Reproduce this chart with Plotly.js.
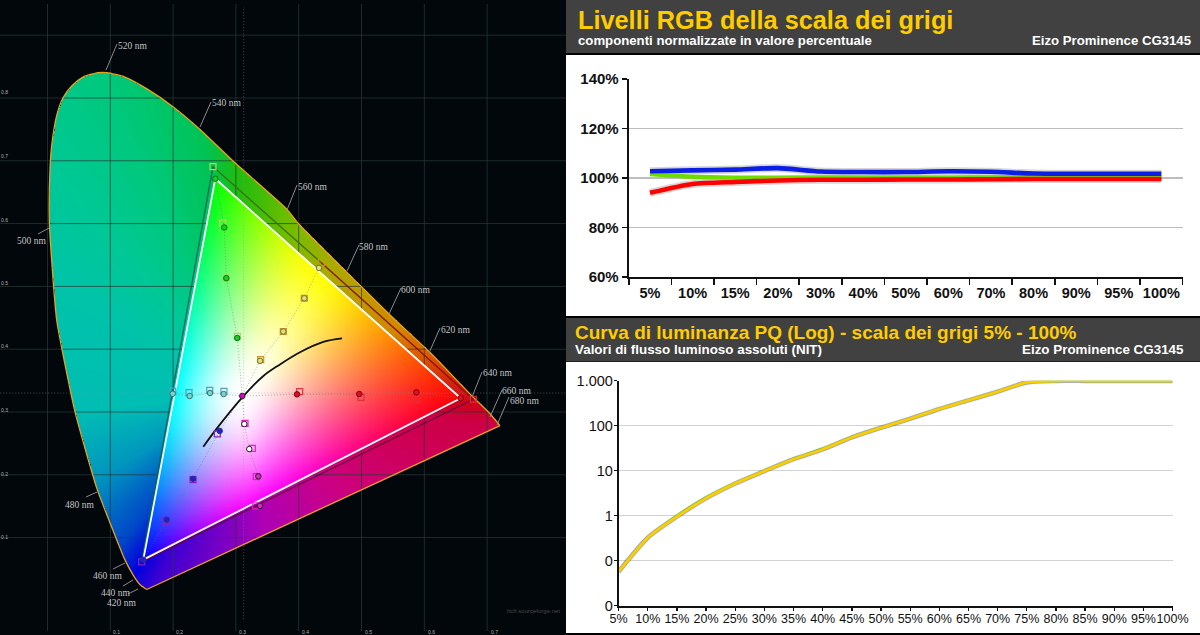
<!DOCTYPE html>
<html><head><meta charset="utf-8">
<script src="https://cdn.plot.ly/plotly-3.0.1.min.js"></script>
<style>html,body{margin:0;padding:0;background:#000;overflow:hidden}#c{width:1200px;height:635px}</style>
</head><body><div id="c"></div>
<script>
// ---- Spectral locus
var locusX=[.158,.147,.136,.1234,.1043,.0783,.0438,.0326,.0146,.0067,.0029,.004,.0067,.0146,.0247,.0385,.0565,.0804,.0947,.1234,.1584,.1998,.2428,.2954,.3814,.3989,.5003,.5454,.6091,.6755,.7046,.7205];
var locusY=[.0173,.0252,.0409,.0645,.1116,.1792,.3003,.3522,.4465,.5409,.6038,.6871,.7248,.772,.8003,.8192,.8333,.8404,.8404,.8333,.8145,.7862,.75,.6997,.6226,.6006,.4989,.4544,.3947,.3259,.2972,.2783];
// ---- Gamut triangles
var measuredX=[.658,.2672,.1526,.658];
var measuredY=[.3219,.6714,.0649,.3219];
var targetX=[.2635,.436,.678,.15,.2635];
var targetY=[.6907,.5377,.3203,.0613,.6907];
// ---- Black body curve
var bbX=[.2481,.2694,.3102,.3437,.3702,.4021,.4392,.469];
var bbY=[.2448,.2736,.3234,.3574,.3758,.3951,.4115,.4171];
// ---- Saturation sweeps (square = target, circle = measured)
var sqRx=[.678,.5879,.4992,.4016], sqRy=[.3203,.3208,.3234,.3323];
var ciRx=[.658,.5873,.4965,.3973], ciRy=[.3219,.3313,.3286,.3281];
var sqGx=[.2635,.279,.2847,.3022], sqGy=[.6907,.6006,.5131,.4203];
var ciGx=[.2672,.2815,.2847,.3022], ciGy=[.6714,.5938,.5131,.4178];
var sqBx=[.15,.1882,.2317,.2704], sqBy=[.0613,.1263,.1923,.2652];
var ciBx=[.1526,.1898,.2317,.2742], ciBy=[.0649,.1285,.1935,.2699];
var sqYx=[.436,.4089,.3755,.3395], sqYy=[.5377,.4811,.4282,.3835];
var ciYx=[.4323,.4089,.3755,.3385], ciYy=[.5294,.4811,.4282,.3815];
var sqCx=[.1994,.2253,.2583,.281], sqCy=[.3333,.3307,.3344,.3328];
var ciCx=[.1994,.2264,.2588,.2805], ciCy=[.3291,.3255,.3302,.3286];
var sqMx=[.3315,.3325,.3261,.3145], sqMy=[.1505,.197,.2421,.2819];
var ciMx=[.3384,.3357,.3213,.3134], ciMy=[.1505,.1976,.241,.2809];
var whiteX=[.3102], whiteY=[.3255];
var nmLabels=["520 nm","540 nm","560 nm","580 nm","600 nm","620 nm","640 nm","660 nm","680 nm","500 nm","480 nm","460 nm","440 nm","420 nm"];
var gridX=[0,.1,.2,.3,.4,.5,.6,.7];
var gridY=[.1,.2,.3,.4,.5,.6,.7,.8,.9];
var cieTickX=["0.1","0.2","0.3","0.4","0.5","0.6","0.7"];
var cieTickY=["0.8","0.7","0.6","0.5","0.4","0.3","0.2","0.1"];
// ---- Colour of the diagram outside the gamut, by hue angle around white (degrees)
var hueAngle=[-180,-174,-150,-129,-121,-115,-102,-81,-42,-7,-3,12,23,55,76,92,99,114,130,150,180];
var hueR=[0,0,0,0,0,60,110,175,205,205,205,220,210,170,110,30,0,0,0,0,0];
var hueG=[190,190,150,70,0,0,0,0,0,0,0,90,135,170,190,188,195,200,200,195,190];
var hueB=[178,180,190,200,220,210,200,180,125,70,30,0,0,0,0,15,85,125,150,170,178];
// ---- RGB levels chart
var rgbCats=["5%","10%","15%","20%","30%","40%","50%","60%","70%","80%","90%","95%","100%"];
var rgbBlue=[102.7,103.1,103.4,104,102.6,102.4,102.4,102.7,102.5,101.8,101.7,101.7,101.7];
var rgbGreen=[101.6,100.5,100.1,100.1,100.2,100.1,100.1,100.1,100.2,100.1,100,100,99.9];
var rgbRed=[94,97.6,98.4,99,99.3,99.3,99.4,99.4,99.5,99.6,99.6,99.6,99.6];
var rgbTickVals=[60,80,100,120,140];
var rgbTickText=["60%","80%","100%","120%","140%"];
// ---- PQ luminance chart
var pqCats=["5%","10%","15%","20%","25%","30%","35%","40%","45%","50%","55%","60%","65%","70%","75%","80%","85%","90%","95%","100%"];
var pqYellow=[.057,.324,.95,2.43,5.2,9.8,18,29.8,55,90,143,235,366,570,918,993,993,993,993,993];
var pqGreen=[.057,.326,1.0,2.52,5.25,9.85,18.2,30.8,55.5,90,143,235,366,570,918,993,993,993,993,993];
var pqTickVals=[.01,.1,1,10,100,1000];
var pqTickText=["0","0","1","10","100","1.000"];

// ---- pixel helpers
var W=1200,H=635;
function fx(p){return p/W}
function fy(p){return 1-p/H}
var SANS='"Liberation Sans", Arial, sans-serif', SERIF='"Liberation Serif", serif';

// ---- colour rendering of the chromaticity plane
function m3inv(m){var a=m[0],b=m[1],c=m[2],d=m[3],e=m[4],f=m[5],g=m[6],h=m[7],i=m[8];
 var A=e*i-f*h,B=f*g-d*i,C=d*h-e*g,D=a*A+b*B+c*C;
 return [A/D,(c*h-b*i)/D,(b*f-c*e)/D,B/D,(a*i-c*g)/D,(c*d-a*f)/D,C/D,(b*g-a*h)/D,(a*e-b*d)/D];}
var px0=[.658,.2672,.1526],py0=[.3219,.6714,.0649];
var M=[px0[0],px0[1],px0[2],py0[0],py0[1],py0[2],1-px0[0]-py0[0],1-px0[1]-py0[1],1-px0[2]-py0[2]];
var Mi=m3inv(M);
var wx=.3127,wy=.329,WX=wx/wy,WZ=(1-wx-wy)/wy;
var S=[Mi[0]*WX+Mi[1]+Mi[2]*WZ,Mi[3]*WX+Mi[4]+Mi[5]*WZ,Mi[6]*WX+Mi[7]+Mi[8]*WZ];
function inPoly(x,y,X,Y){var c=false;for(var i=0,j=X.length-1;i<X.length;j=i++){
 if((Y[i]>y)!=(Y[j]>y)&&x<(X[j]-X[i])*(y-Y[i])/(Y[j]-Y[i])+X[i])c=!c;}return c;}
function tone(c){return 255*(1-Math.pow(1-c,2.3));}
function insideColour(x,y){
 var z=1-x-y;
 var r=(Mi[0]*x+Mi[1]*y+Mi[2]*z)/S[0],g=(Mi[3]*x+Mi[4]*y+Mi[5]*z)/S[1],b=(Mi[6]*x+Mi[7]*y+Mi[8]*z)/S[2];
 r=Math.max(r,0);g=Math.max(g,0);b=Math.max(b,0);
 var m=Math.max(r,g,b);
 return [tone(r/m),tone(g/m),tone(b/m)];
}
function outsideColour(x,y){
 var a=Math.atan2(y-wy,x-wx)*180/Math.PI,i=0;
 while(i<hueAngle.length-2&&hueAngle[i+1]<a)i++;
 var t=(a-hueAngle[i])/(hueAngle[i+1]-hueAngle[i]);
 return [hueR[i]+t*(hueR[i+1]-hueR[i]),hueG[i]+t*(hueG[i+1]-hueG[i]),hueB[i]+t*(hueB[i+1]-hueB[i])];
}
var DX=.0014,DY=.0014,X0=-.005,Y0=.01,NX=540,NY=600;
var triX=measuredX.slice(0,3),triY=measuredY.slice(0,3);
var zOut=[],zIn=[];
for(var j=0;j<NY;j++){var ro=[],ri=[],yy=Y0+j*DY;
 for(var i=0;i<NX;i++){var xx=X0+i*DX;
  if(inPoly(xx,yy,triX,triY)){var c=insideColour(xx,yy);ri.push([c[0],c[1],c[2],1]);ro.push([0,0,0,0]);}
  else{ri.push([0,0,0,0]);
   if(inPoly(xx,yy,locusX,locusY)){var c2=outsideColour(xx,yy);ro.push([c2[0],c2[1],c2[2],1]);}else ro.push([0,0,0,0]);}
 }
 zOut.push(ro);zIn.push(ri);}

var traces=[];
traces.push({type:'image',z:zOut,colormodel:'rgba',x0:X0,y0:Y0,dx:DX,dy:DY,xaxis:'x',yaxis:'y'});
// grid painted over the outer diagram
var gx=[],gy=[];
gridX.forEach(function(v){gx.push(v,v,null);gy.push(-.05,.95,null);});
gridY.forEach(function(v){gx.push(-.08,.83,null);gy.push(v,v,null);});
traces.push({type:'scatter',mode:'lines',x:gx,y:gy,xaxis:'x',yaxis:'y',line:{color:'rgba(40,58,54,0.72)',width:1}});
// locus outline
traces.push({type:'scatter',mode:'lines',x:locusX,y:locusY,xaxis:'x',yaxis:'y',line:{color:'#E8A317',width:1.3,shape:'spline',smoothing:.6}});
traces.push({type:'scatter',mode:'lines',x:[locusX[locusX.length-1],locusX[0]],y:[locusY[locusY.length-1],locusY[0]],xaxis:'x',yaxis:'y',line:{color:'#E8A317',width:1.3}});
// target triangle edges
var edgeCol=['#3d6e00','#8a1000','#6a0040','#006a60'];
for(var e=0;e<4;e++){traces.push({type:'scatter',mode:'lines',x:targetX.slice(e,e+2),y:targetY.slice(e,e+2),xaxis:'x',yaxis:'y',line:{color:edgeCol[e],width:1.3}});}
// inner gamut on an overlaid subplot
traces.push({type:'image',z:zIn,colormodel:'rgba',x0:X0,y0:Y0,dx:DX,dy:DY,xaxis:'x2',yaxis:'y2'});
traces.push({type:'scatter',mode:'lines',x:measuredX,y:measuredY,xaxis:'x2',yaxis:'y2',line:{color:'#fff',width:1.8}});
// dotted guide lines
function dotted(x,y,col){traces.push({type:'scatter',mode:'lines',x:x,y:y,xaxis:'x2',yaxis:'y2',line:{color:col||'rgba(110,110,110,.7)',width:.8,dash:'1px,2px'}});}
[[ciRx,ciRy],[ciGx,ciGy],[ciBx,ciBy],[ciYx,ciYy],[ciCx,ciCy],[ciMx,ciMy]].forEach(function(p){dotted(p[0].concat(whiteX),p[1].concat(whiteY));});
dotted([-.08,.83],[.3302,.3302],'rgba(150,150,150,.6)');
dotted([.3124,.3124],[-.03,.945],'rgba(150,150,150,.6)');
traces.push({type:'scatter',mode:'lines',x:bbX,y:bbY,xaxis:'x2',yaxis:'y2',line:{color:'#111',width:1.8,shape:'spline'}});
function squares(x,y,col){traces.push({type:'scatter',mode:'markers',x:x,y:y,xaxis:'x2',yaxis:'y2',marker:{symbol:'square-open',size:6,color:col,line:{width:1.2,color:col}}});}
function circles(x,y,col,edge){traces.push({type:'scatter',mode:'markers',x:x,y:y,xaxis:'x2',yaxis:'y2',marker:{symbol:'circle',size:5.5,color:col,line:{width:1,color:edge}}});}
squares(sqRx,sqRy,'#e0303a');circles(ciRx,ciRy,'#e01020','#7a0010');
squares(sqGx,sqGy,'#b8d060');circles(ciGx,ciGy,'#10d020','#107010');
squares(sqBx,sqBy,'#8a20c0');circles(ciBx,ciBy,'#2020d0','#303080');
squares(sqYx,sqYy,'#d09020');circles(ciYx,ciYy,'#e0e070','#707040');
squares(sqCx,sqCy,'#50a0c0');circles(ciCx,ciCy,'#70d8d0','#407070');
squares(sqMx,sqMy,'#e020c0');circles(ciMx,ciMy,['#d030c0','#d030c0','#ffffff','#ffffff'],'#202020');
circles(whiteX,whiteY,'#e000d0','#222');

// ---- RGB chart
function shadow(cat,v,w,xa,ya,a){return {type:'scatter',mode:'lines',x:cat,y:v,xaxis:xa,yaxis:ya,line:{color:'rgba(0,0,0,'+a+')',width:w,shape:'spline',smoothing:.7}};}
[rgbRed,rgbBlue].forEach(function(v){traces.push(shadow(rgbCats,v,8,'x3','y3',.16));});
traces.push({type:'scatter',mode:'lines',x:rgbCats,y:rgbGreen,xaxis:'x3',yaxis:'y3',line:{color:'#6FDC00',width:4.6,shape:'spline',smoothing:.7}});
traces.push({type:'scatter',mode:'lines',x:rgbCats,y:rgbBlue,xaxis:'x3',yaxis:'y3',line:{color:'#0A1EE6',width:4.6,shape:'spline',smoothing:.7}});
traces.push({type:'scatter',mode:'lines',x:rgbCats,y:rgbRed,xaxis:'x3',yaxis:'y3',line:{color:'#FF0000',width:4.6,shape:'spline',smoothing:.7}});
// ---- PQ chart
traces.push(shadow(pqCats,pqYellow,4.6,'x4','y4',.32));
traces.push({type:'scatter',mode:'lines',x:pqCats,y:pqGreen,xaxis:'x4',yaxis:'y4',line:{color:'#7ED321',width:2.6,shape:'spline',smoothing:.5}});
traces.push({type:'scatter',mode:'lines',x:pqCats,y:pqYellow,xaxis:'x4',yaxis:'y4',line:{color:'#FFCC00',width:2.6,shape:'spline',smoothing:.5}});

// ---- panels
function rect(x0,y0,x1,y1,col){return {type:'rect',layer:'below',xref:'paper',yref:'paper',x0:fx(x0),x1:fx(x1),y0:fy(y0),y1:fy(y1),fillcolor:col,line:{width:0}};}
var shapes=[rect(0,0,566,635,'#01070a'),rect(566,0,1200,53,'#414141'),rect(566,55,1200,316,'#ffffff'),rect(566,318,1200,361.5,'#414141'),rect(566,362,1200,633,'#ffffff')];
// leader lines for the wavelength labels
var leaders=[[106,70,117,44],[200,127,211,102],[287,210,297,185],[347,271,359,245],[389,314,401,288],[429,353,440,328],[472,397,482,372],[490,417,502,390],[497,425,509,397],[49,228,38,234],[97,492,86,497],[125,563,113,569],[133,580,123,586],[138,589,128,594]];
leaders.forEach(function(l){shapes.push({type:'line',layer:'above',xref:'paper',yref:'paper',x0:fx(l[0]),y0:fy(l[1]),x1:fx(l[2]),y1:fy(l[3]),line:{color:'#8a8a8a',width:1}});});
var nmPos=[[118,46],[212,103],[298,187],[359,247],[401,290],[441,330],[483,373],[502,391],[510,401],[17,241],[65,505],[93,576],[101,593],[107,603]];
var ann=[];
function txt(s,x,y,size,col,opt){opt=opt||{};ann.push({xref:'paper',yref:'paper',x:fx(x),y:fy(y),text:s,showarrow:false,borderpad:0,borderwidth:0,xanchor:opt.anchor||'left',yanchor:'middle',align:opt.anchor||'left',font:{family:opt.family||SANS,size:size,color:col,weight:opt.bold?700:400}});}
nmLabels.forEach(function(s,i){txt(s,nmPos[i][0],nmPos[i][1],9.5,'#c4c4c4',{family:SERIF});});
var cxPos=[113,176,239,302,365,428,491];
cieTickX.forEach(function(s,i){txt(s,cxPos[i],632,5,'#b0b0b0');});
var cyPos=[92,156,220,283,346,410,474,537];
cieTickY.forEach(function(s,i){txt(s,1,cyPos[i],5,'#b0b0b0');});
txt('hcfr.sourceforge.net',507,611,6,'#4a4a4a');
// headers
txt('Livelli RGB della scala dei grigi',578,20,25.3,'#FFCC00',{bold:true});
txt('componenti normalizzate in valore percentuale',578,40,13.2,'#fff',{bold:true});
txt('Eizo Prominence CG3145',1191,40,13.2,'#fff',{bold:true,anchor:'right'});
txt('Curva di luminanza PQ (Log) - scala dei grigi 5% - 100%',575,332,19,'#FFCC00',{bold:true});
txt('Valori di flusso luminoso assoluti (NIT)',575,349,13.4,'#fff',{bold:true});
txt('Eizo Prominence CG3145',1184,349,13.4,'#fff',{bold:true,anchor:'right'});

var cieXR=[-47.5/628,(566-47.5)/628], cieYR=[(604-635)/636,604/636];
var off={visible:false,showgrid:false,zeroline:false,fixedrange:true};
var layout={width:W,height:H,margin:{l:0,r:0,t:0,b:0,pad:0},paper_bgcolor:'#000',plot_bgcolor:'rgba(0,0,0,0)',showlegend:false,hovermode:false,shapes:shapes,annotations:ann,
 xaxis:Object.assign({},off,{domain:[0,fx(566)],range:cieXR}),
 yaxis:Object.assign({},off,{domain:[0,1],range:cieYR}),
 xaxis2:Object.assign({},off,{overlaying:'x',range:cieXR,anchor:'y2'}),
 yaxis2:Object.assign({},off,{overlaying:'y',range:cieYR,anchor:'x2'}),
 xaxis3:{domain:[fx(628.7),fx(1182.7)],anchor:'y3',type:'category',categoryorder:'array',categoryarray:rgbCats,range:[-.5,12.5],tickson:'boundaries',tickmode:'linear',tick0:0,dtick:1,tickangle:0,ticks:'outside',ticklen:6,tickwidth:1.6,tickcolor:'#111',showline:true,linecolor:'#111',linewidth:2,showgrid:false,zeroline:false,ticklabelstandoff:2,tickfont:{family:SANS,size:14.5,color:'#111',weight:700}},
 yaxis3:{domain:[fy(277),fy(79)],anchor:'x3',range:[60,140],tickmode:'array',tickvals:rgbTickVals,ticktext:rgbTickText,ticks:'outside',ticklen:5,tickwidth:1.6,tickcolor:'#111',showline:true,linecolor:'#111',linewidth:2,gridcolor:'#bdbdbd',gridwidth:1.5,zeroline:false,tickfont:{family:SANS,size:15,color:'#111',weight:700}},
 xaxis4:{domain:[fx(618.6),fx(1172.6)],anchor:'y4',type:'category',categoryorder:'array',categoryarray:pqCats,range:[0,19],tickmode:'linear',tick0:0,dtick:1,tickangle:0,ticks:'outside',ticklen:3,tickwidth:1.3,tickcolor:'#111',showline:true,linecolor:'#111',linewidth:1.8,showgrid:false,zeroline:false,ticklabelstandoff:-3,tickfont:{family:SANS,size:12.5,color:'#111'}},
 yaxis4:{domain:[fy(605.7),fy(380.7)],anchor:'x4',type:'log',range:[-2,3],tickmode:'array',tickvals:pqTickVals,ticktext:pqTickText,ticks:'outside',ticklen:3,tickwidth:1.3,tickcolor:'#111',showline:true,linecolor:'#111',linewidth:1.8,gridcolor:'#d2d2d2',gridwidth:1.5,zeroline:false,ticklabelstandoff:-2,tickfont:{family:SANS,size:14.5,color:'#111'}}
};
Plotly.newPlot('c',traces,layout,{staticPlot:true,displayModeBar:false});
</script></body></html>
